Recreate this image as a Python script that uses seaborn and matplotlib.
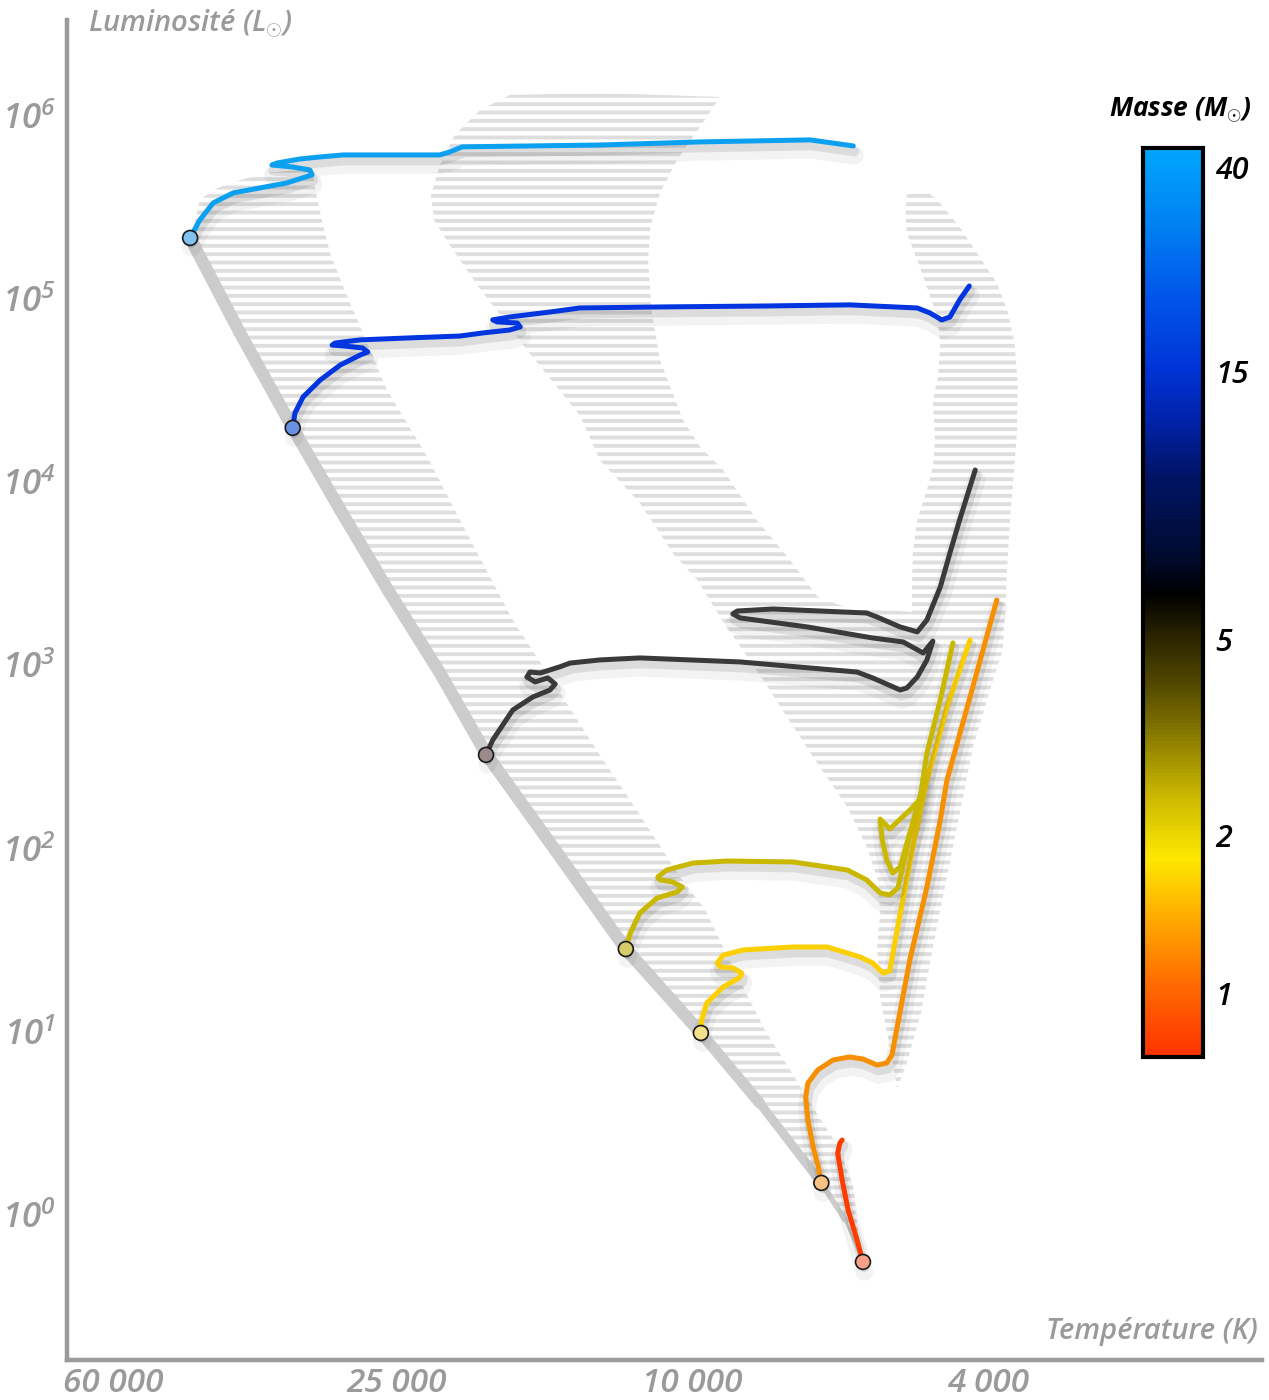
import numpy as np
import pandas as pd
import matplotlib
matplotlib.use("Agg")
import matplotlib.pyplot as plt
import matplotlib.patheffects as pe
from matplotlib.colors import LinearSegmentedColormap, FuncNorm
from matplotlib.cm import ScalarMappable
from matplotlib.ticker import NullLocator
import seaborn as sns

masses = [40, 15, 5, 3, 2, 1, 0.8]

logT_40 = [4.675, 4.662, 4.644, 4.617, 4.581, 4.545, 4.511, 4.514, 4.537, 4.565, 4.558,
           4.527, 4.500, 4.469, 4.393, 4.339, 4.326, 4.309, 4.124, 3.989, 3.841, 3.783]
logL_40 = [5.330, 5.428, 5.521, 5.576, 5.603, 5.630, 5.674, 5.701, 5.717, 5.728, 5.739,
           5.761, 5.772, 5.783, 5.783, 5.783, 5.799, 5.827, 5.837, 5.854, 5.865, 5.832]

logT_15 = [4.537, 4.534, 4.523, 4.500, 4.473, 4.446, 4.436, 4.443, 4.469, 4.484, 4.480,
           4.446, 4.379, 4.312, 4.281, 4.245, 4.231, 4.235, 4.262, 4.268, 4.245, 4.191,
           4.151, 4.034, 3.899, 3.788, 3.697, 3.680, 3.664, 3.653, 3.640, 3.627]
logL_15 = [4.294, 4.375, 4.463, 4.555, 4.637, 4.692, 4.708, 4.730, 4.741, 4.746, 4.757,
           4.774, 4.785, 4.795, 4.812, 4.828, 4.845, 4.866, 4.872, 4.883, 4.899, 4.926,
           4.948, 4.954, 4.959, 4.965, 4.948, 4.921, 4.883, 4.899, 4.992, 5.068]

logT_5 = [4.277, 4.268, 4.241, 4.214, 4.191, 4.184, 4.194, 4.211, 4.222, 4.218, 4.204,
          4.178, 4.164, 4.124, 4.070, 3.935, 3.778, 3.757, 3.720, 3.711, 3.697, 3.684,
          3.676, 3.689, 3.716, 3.757, 3.845, 3.935, 3.945, 3.939, 3.891, 3.765, 3.751,
          3.720, 3.697, 3.684, 3.666, 3.653, 3.640, 3.619]
logL_5 = [2.510, 2.591, 2.755, 2.826, 2.864, 2.897, 2.930, 2.908, 2.935, 2.962, 2.957,
          2.990, 3.011, 3.028, 3.039, 3.017, 2.962, 2.930, 2.864, 2.875, 2.935, 3.028,
          3.131, 3.066, 3.126, 3.148, 3.208, 3.257, 3.279, 3.295, 3.306, 3.284, 3.262,
          3.208, 3.181, 3.246, 3.426, 3.612, 3.792, 4.064]

logT_3 = [4.089, 4.083, 4.070, 4.047, 4.020, 4.013, 4.026, 4.043, 4.046, 4.034, 3.999,
          3.953, 3.864, 3.791, 3.765, 3.747, 3.734, 3.723, 3.716, 3.707, 3.694, 3.687,
          3.694, 3.707, 3.734, 3.747, 3.744, 3.738, 3.730, 3.720, 3.707, 3.692, 3.684,
          3.666, 3.649]
logL_3 = [1.451, 1.538, 1.648, 1.729, 1.762, 1.789, 1.817, 1.828, 1.844, 1.882, 1.920,
          1.931, 1.926, 1.882, 1.828, 1.757, 1.746, 1.784, 1.909, 2.073, 2.237, 2.384,
          2.264, 2.209, 2.106, 2.160, 2.046, 1.937, 1.866, 1.898, 2.084, 2.302, 2.520,
          2.810, 3.121]

logT_2 = [3.988, 3.987, 3.980, 3.958, 3.935, 3.933, 3.945, 3.962, 3.966, 3.958, 3.931,
          3.864, 3.818, 3.774, 3.757, 3.743, 3.734, 3.724, 3.703, 3.684, 3.657, 3.626]
logL_2 = [0.993, 1.064, 1.157, 1.244, 1.298, 1.320, 1.348, 1.353, 1.375, 1.418, 1.446,
          1.462, 1.462, 1.408, 1.375, 1.320, 1.331, 1.555, 2.008, 2.373, 2.771, 3.137]

logT_1 = [3.826, 3.830, 3.837, 3.844, 3.847, 3.844, 3.831, 3.810, 3.788, 3.770, 3.751,
          3.738, 3.731, 3.724, 3.707, 3.684, 3.666, 3.657, 3.626, 3.590]
logL_1 = [0.175, 0.262, 0.371, 0.518, 0.644, 0.720, 0.791, 0.846, 0.862, 0.851, 0.818,
          0.829, 0.873, 1.026, 1.391, 1.789, 2.155, 2.373, 2.826, 3.355]

logT_08 = [3.770, 3.778, 3.790, 3.798, 3.804, 3.801, 3.798]
logL_08 = [-0.256, -0.136, 0.027, 0.191, 0.338, 0.393, 0.409]

# séquence principale d'âge zéro
zams_logT = [4.675, 4.608, 4.537, 4.473, 4.409, 4.339, 4.276, 4.184, 4.089, 3.988,
             3.909, 3.826, 3.794, 3.770]
zams_logL = [5.330, 4.812, 4.294, 3.846, 3.410, 2.957, 2.510, 1.991, 1.451, 0.993,
             0.611, 0.175, -0.027, -0.256]

# bord droit de la bande de la séquence principale (du bas vers le haut)
ms_edge_logT = [3.774, 3.783, 3.801, 3.835, 3.868, 3.902, 3.929, 3.956, 3.982, 4.016,
                4.070, 4.124, 4.200, 4.241, 4.303, 4.356, 4.410, 4.433, 4.453, 4.469,
                4.487, 4.500, 4.507, 4.510, 4.527, 4.572, 4.617, 4.644, 4.662, 4.672]
ms_edge_logL = [-0.175, 0.153, 0.355, 0.573, 0.791, 1.009, 1.227, 1.446, 1.664, 1.844,
                2.182, 2.510, 2.990, 3.246, 3.721, 4.135, 4.501, 4.719, 4.910, 5.063,
                5.248, 5.466, 5.608, 5.701, 5.701, 5.685, 5.636, 5.592, 5.537, 5.357]

# zone des géantes (contour fermé)
giant_logT = [3.962, 4.124, 4.245, 4.285, 4.319, 4.339, 4.351, 4.347, 4.326, 4.289,
              4.258, 4.222, 4.187, 4.151, 4.124, 4.070, 4.026, 3.993, 3.958, 3.904,
              3.868, 3.828, 3.791, 3.765, 3.750, 3.747, 3.751, 3.747, 3.734, 3.724,
              3.711, 3.692, 3.676, 3.649, 3.622, 3.595, 3.582, 3.579, 3.576, 3.572,
              3.568, 3.563, 3.562, 3.566, 3.576, 3.590, 3.613, 3.640, 3.670, 3.687,
              3.711, 3.713, 3.711, 3.697, 3.684, 3.670, 3.666, 3.669, 3.676, 3.673,
              3.676, 3.684, 3.697, 3.703, 3.704, 3.704, 3.747, 3.794, 3.831, 3.868,
              3.913, 3.958, 3.989, 4.012, 4.026, 4.043, 4.054, 4.059, 4.056, 4.043,
              4.020, 3.989]
giant_logL = [6.099, 6.121, 6.110, 6.028, 5.892, 5.728, 5.565, 5.428, 5.292, 5.074,
              4.910, 4.719, 4.544, 4.364, 4.119, 3.884, 3.612, 3.464, 3.235, 2.919,
              2.690, 2.444, 2.226, 2.008, 1.828, 1.648, 1.462, 1.189, 0.917, 0.693,
              0.829, 1.102, 1.462, 2.008, 2.553, 2.919, 3.082, 3.262, 3.535, 3.808,
              3.993, 4.266, 4.539, 4.757, 4.937, 5.085, 5.226, 5.390, 5.537, 5.592,
              5.565, 5.456, 5.357, 5.210, 5.063, 4.899, 4.757, 4.572, 4.446, 4.228,
              4.081, 3.955, 3.792, 3.612, 3.426, 3.290, 3.301, 3.317, 3.372, 3.573,
              3.792, 4.064, 4.190, 4.337, 4.484, 4.664, 4.921, 5.210, 5.390, 5.576,
              5.756, 5.936]

x_ticks = [60000, 25000, 10000, 4000]
x_labels = ["60 000", "25 000", "10 000", "4 000"]
y_ticks = [1e0, 1e1, 1e2, 1e3, 1e4, 1e5, 1e6]
y_labels = [r"$10^{%d}$" % k for k in range(7)]
cbar_ticks = [1, 2, 5, 15, 40]
# échelle de masse de la barre (masse -> fraction de hauteur)
cbar_mass = [0.75, 1, 2, 5, 15, 40, 45]
cbar_frac = [0.0, 0.070, 0.244, 0.459, 0.754, 0.978, 1.0]

track_colors = {40: "#0ca0f0", 15: "#0035e0", 5: "#3a3a3a", 3: "#cab800",
                2: "#fcd000", 1: "#f79000", 0.8: "#ff3c00"}
dot_colors = {40: "#82c2ee", 15: "#6a90e2", 5: "#9c8a8a", 3: "#d6cc6c",
              2: "#f2e28a", 1: "#f6c282", 0.8: "#f6a08a"}

# ---- style ----
sns.set_theme(style="white")
plt.rcParams["font.family"] = ["Open Sans", "DejaVu Sans"]
plt.rcParams["mathtext.fontset"] = "custom"
plt.rcParams["mathtext.rm"] = "Open Sans:italic:semibold"
plt.rcParams["mathtext.it"] = "Open Sans:italic:semibold"
plt.rcParams["mathtext.bf"] = "Open Sans:bold:italic"
plt.rcParams["hatch.linewidth"] = 2.8
GREY = "#9a9a9a"

fig = plt.figure(figsize=(12.69, 14), dpi=100)
ax = fig.add_axes([67 / 1269, 40 / 1400, 1195 / 1269, 1340 / 1400])
ax.set_xscale("log")
ax.set_yscale("log")
ax.set_xlim(10 ** 4.8406, 10 ** 3.2333)
ax.set_ylim(10 ** -0.791, 10 ** 6.519)

# zones hachurées
ms_poly_T = 10 ** np.array(zams_logT + ms_edge_logT)
ms_poly_L = 10 ** np.array(zams_logL + ms_edge_logL)
ax.fill(ms_poly_T, ms_poly_L, facecolor="none", edgecolor="#dedede", lw=0,
        hatch="--", zorder=1)
ax.fill(10 ** np.array(giant_logT), 10 ** np.array(giant_logL), facecolor="none",
        edgecolor="#dedede", lw=0, hatch="--", zorder=1)

# bande grise de la séquence principale (s'amincit vers le bas)
zT = 10 ** np.array(zams_logT)
zL = 10 ** np.array(zams_logL)
band_w = [9, 9, 9, 9, 9, 9, 9, 9, 9, 8, 6.5, 4, 2]
for i in range(len(zT) - 1):
    ax.plot(zT[i:i + 2], zL[i:i + 2], color="#cccccc", lw=band_w[i],
            solid_capstyle="round", zorder=2)

# trajets évolutifs
all_logT = [logT_40, logT_15, logT_5, logT_3, logT_2, logT_1, logT_08]
all_logL = [logL_40, logL_15, logL_5, logL_3, logL_2, logL_1, logL_08]
rows = []
for m, lt, ll in zip(masses, all_logT, all_logL):
    for k, (a, b) in enumerate(zip(lt, ll)):
        rows.append((m, k, 10 ** a, 10 ** b))
df = pd.DataFrame(rows, columns=["mass", "step", "T", "L"])

shadow = [pe.SimpleLineShadow(offset=(1, -7), shadow_color="k", alpha=0.05, linewidth=13),
          pe.SimpleLineShadow(offset=(1, -4), shadow_color="k", alpha=0.10, linewidth=7),
          pe.Normal()]
sns.lineplot(data=df, x="T", y="L", hue="mass", palette=track_colors, units="mass",
             estimator=None, sort=False, legend=False, lw=3.6, ax=ax, zorder=5,
             solid_capstyle="round", solid_joinstyle="round", path_effects=shadow)

starts = df[df["step"] == 0]
sns.scatterplot(data=starts, x="T", y="L", hue="mass", palette=dot_colors, s=115,
                edgecolor="#1a1a1a", linewidth=1.2, legend=False, ax=ax, zorder=6)

# axes
for s in ["top", "right"]:
    ax.spines[s].set_visible(False)
for s in ["left", "bottom"]:
    ax.spines[s].set_color(GREY)
    ax.spines[s].set_linewidth(3.2)
ax.set_xticks(x_ticks)
ax.set_xticklabels(x_labels)
ax.set_yticks(y_ticks)
ax.set_yticklabels(y_labels)
ax.xaxis.set_minor_locator(NullLocator())
ax.yaxis.set_minor_locator(NullLocator())
ax.tick_params(direction="in", length=9, width=2.5, color=GREY, labelcolor=GREY)
ax.tick_params(axis="x", pad=5, labelsize=24)
ax.tick_params(axis="y", pad=8, labelsize=25)
for lbl in ax.get_xticklabels() + ax.get_yticklabels():
    lbl.set_style("italic")
    lbl.set_weight("semibold")
ax.set_xlabel("")
ax.set_ylabel("")
ax.patch.set_alpha(0)

fig.text(88 / 1269, 1 - 24 / 1400, "Luminosité (L$_{\\odot}$)", color=GREY, fontsize=21,
         style="italic", weight="semibold", ha="left", va="center")
fig.text(1258 / 1269, 1 - 1331 / 1400, "Température (K)", color=GREY, fontsize=21,
         style="italic", weight="semibold", ha="right", va="center")

# échelle de masse
cmap = LinearSegmentedColormap.from_list("masse", [
    (0.0, "#ff3300"), (0.07, "#ff6400"), (0.14, "#ffa000"), (0.217, "#ffe800"),
    (0.25, "#e6d200"), (0.29, "#c8b400"), (0.33, "#a09000"), (0.37, "#786a00"),
    (0.415, "#4e4400"), (0.46, "#2c2600"), (0.51, "#000000"), (0.55, "#000a2e"),
    (0.64, "#001466"), (0.70, "#0022a8"), (0.76, "#0034d8"), (0.84, "#0056ea"),
    (0.92, "#0082f2"), (1.0, "#00a6ff")])
lm, fr = np.log10(cbar_mass), np.array(cbar_frac)
mass_norm = FuncNorm((lambda m: np.interp(np.log10(m), lm, fr),
                      lambda f: 10 ** np.interp(f, fr, lm)), vmin=0.75, vmax=45)
cax = fig.add_axes([1143 / 1269, 343 / 1400, 60 / 1269, 909 / 1400])
sm = ScalarMappable(norm=mass_norm, cmap=cmap)
cb = fig.colorbar(sm, cax=cax)
cb.set_ticks(cbar_ticks)
cb.set_ticklabels([str(t) for t in cbar_ticks])
cb.ax.minorticks_off()
cb.outline.set_linewidth(3)
cb.outline.set_edgecolor("black")
cb.ax.tick_params(direction="in", length=9, width=3, colors="black", labelsize=22, pad=9)
for lbl in cb.ax.get_yticklabels():
    lbl.set_style("italic")
    lbl.set_weight("semibold")
cb.ax.yaxis.get_major_ticks()[2].tick2line.set_color("#bbbbbb")

fig.text(1180 / 1269, 1 - 110 / 1400, "Masse (M$_{\\odot}$)", color="black", fontsize=19,
         style="italic", weight="bold", ha="center", va="center")

fig.savefig("out.png", dpi=100)
